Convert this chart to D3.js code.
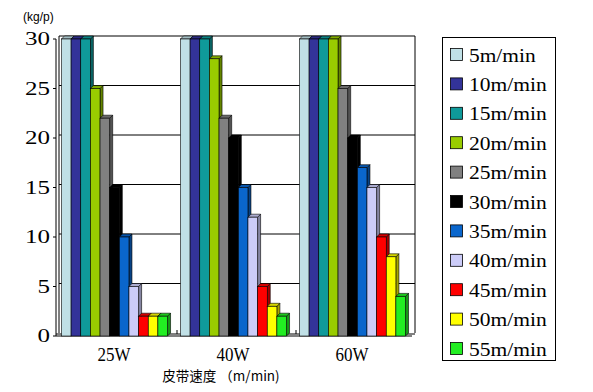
<!DOCTYPE html>
<html><head><meta charset="utf-8">
<script src="https://cdn.jsdelivr.net/npm/d3@7"></script>
<style>body{margin:0;background:#fff}svg{display:block}</style>
</head><body><div id="chart"></div>
<script>
const categories = ["25W", "40W", "60W"];
const seriesNames = ["5m/min","10m/min","15m/min","20m/min","25m/min","30m/min","35m/min","40m/min","45m/min","50m/min","55m/min"];
const values25W = [30,30,30,25,22,15,10,5,2,2,2];
const values40W = [30,30,30,28,22,20,15,12,5,3,2];
const values60W = [30,30,30,30,25,20,17,15,10,8,4];
const yTicks = [0,5,10,15,20,25,30];
const colors = ["#c0e0e6","#333399","#0f9a9a","#99cc00","#808080","#000000","#0a66cc","#ccccf8","#ff0000","#ffff00","#22ee22"];
const yUnit = "(kg/p)";
const xTitle = "皮带速度 （m/min)";

const valuesByCat = [values25W, values40W, values60W];
const W = 593, H = 392;
const svg = d3.select("#chart").append("svg").attr("width", W).attr("height", H);

const x = d3.scaleBand().domain(categories).range([55, 412]).padding(0);
const xi = d3.scaleBand().domain(seriesNames).range([0, x.bandwidth()]).paddingOuter(0.67).paddingInner(0);
const y = d3.scaleLinear().domain([0, 30]).range([336, 39]);
const dx = 3, dy = -3;

const g = svg.append("g");
g.selectAll("line.grid").data(yTicks.filter(d => d > 0)).join("line")
  .attr("x1", 56 + dx).attr("x2", 412 + dx)
  .attr("y1", d => y(d) + dy).attr("y2", d => y(d) + dy)
  .attr("stroke", "#000").attr("stroke-width", 1);
g.append("line").attr("x1", 56 + dx).attr("x2", 56 + dx).attr("y1", y(30) + dy).attr("y2", y(0) + dy).attr("stroke", "#000");
g.append("line").attr("x1", 412 + dx).attr("x2", 412 + dx).attr("y1", y(30) + dy).attr("y2", y(0) + dy).attr("stroke", "#000");
g.append("line").attr("x1", 56).attr("x2", 412 + dx).attr("y1", y(0) + dy + 1).attr("y2", y(0) + dy + 1).attr("stroke", "#000");
g.append("line").attr("x1", 56).attr("x2", 412).attr("y1", y(0)).attr("y2", y(0)).attr("stroke", "#000");
g.selectAll("line.ct").data(categories.slice(1)).join("line")
  .attr("x1", d => x(d) + dx).attr("x2", d => x(d) + dx)
  .attr("y1", y(0) + dy - 3).attr("y2", y(0) + dy + 1).attr("stroke", "#000");

categories.forEach((c, ci) => {
  const bg = svg.append("g").attr("transform", `translate(${x(c)},0)`);
  seriesNames.forEach((s, si) => {
    const v = valuesByCat[ci][si];
    const x0 = xi(s), w = xi.bandwidth();
    const yt = y(v), yb = y(0);
    const col = d3.color(colors[si]);
    const dark = col.darker(1.2);
    const mid = col.darker(0.5);
    bg.append("path")
      .attr("d", `M${x0 + w},${yt} L${x0 + w + dx},${yt + dy} L${x0 + w + dx},${yb + dy} L${x0 + w},${yb} Z`)
      .attr("fill", dark).attr("stroke", "#000").attr("stroke-width", 0.6);
    bg.append("path")
      .attr("d", `M${x0},${yt} L${x0 + dx},${yt + dy} L${x0 + w + dx},${yt + dy} L${x0 + w},${yt} Z`)
      .attr("fill", mid).attr("stroke", "#000").attr("stroke-width", 0.6);
    bg.append("rect").attr("x", x0).attr("y", yt).attr("width", w).attr("height", yb - yt)
      .attr("fill", colors[si]).attr("stroke", "#000").attr("stroke-width", 0.6);
  });
});

svg.append("line").attr("x1", 56).attr("x2", 56).attr("y1", y(30)).attr("y2", y(0)).attr("stroke", "#000");
svg.selectAll("line.yt").data(yTicks).join("line")
  .attr("x1", 53).attr("x2", 56).attr("y1", d => y(d)).attr("y2", d => y(d)).attr("stroke", "#000");
svg.selectAll("text.yl").data(yTicks).join("text")
  .attr("x", 50).attr("y", d => y(d) + 6)
  .attr("text-anchor", "end")
  .attr("font-family", "Liberation Serif").attr("font-size", 18)
  .attr("textLength", d => String(d).length * 12.5).attr("lengthAdjust", "spacingAndGlyphs")
  .text(d => d);

svg.selectAll("text.cl").data(categories).join("text")
  .attr("x", d => x(d) + x.bandwidth() / 2 - 17).attr("y", 361)
  .attr("font-family", "Liberation Serif").attr("font-size", 18)
  .attr("textLength", 33).attr("lengthAdjust", "spacingAndGlyphs")
  .text(d => d);

svg.append("text").attr("x", 221).attr("y", 381).attr("text-anchor", "middle")
  .attr("font-family", "Noto Sans CJK SC").attr("font-size", 13.5).text(xTitle);

svg.append("text").attr("x", 23).attr("y", 21)
  .attr("font-family", "Liberation Sans").attr("font-size", 12).text(yUnit);

const lg = svg.append("g");
lg.append("rect").attr("x", 442.5).attr("y", 37.5).attr("width", 113).attr("height", 323)
  .attr("fill", "#fff").attr("stroke", "#000");
const items = lg.selectAll("g.it").data(seriesNames).join("g")
  .attr("transform", (d, i) => `translate(0,${55 + i * 29.4})`);
items.append("rect").attr("x", 450.5).attr("y", -6.5).attr("width", 12).attr("height", 12)
  .attr("fill", (d, i) => colors[i]).attr("stroke", "#000").attr("stroke-width", 0.8);
items.append("text").attr("x", 469).attr("y", 6.5)
  .attr("font-family", "Liberation Serif").attr("font-size", 18)
  .attr("textLength", d => d.length * 11.1).attr("lengthAdjust", "spacingAndGlyphs")
  .text(d => d);
</script></body></html>
